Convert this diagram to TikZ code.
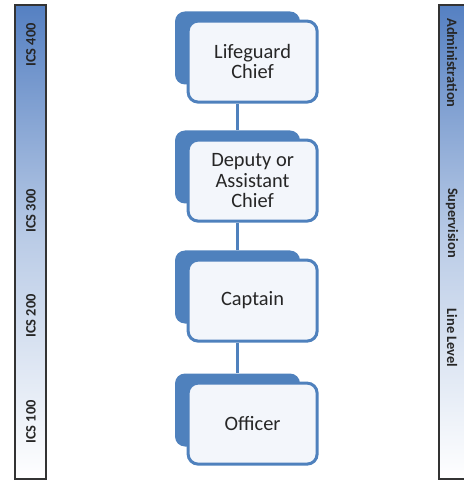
\documentclass[tikz,border=0pt]{standalone}
\usepackage{fontspec}
\setmainfont{Carlito}
\usetikzlibrary{positioning}
\definecolor{orgblue}{HTML}{4F81BD}
\definecolor{barblue}{HTML}{5580C2}
\definecolor{boxfill}{HTML}{F3F6FB}
\tikzset{
  backbox/.style={fill=orgblue, rounded corners=5pt, minimum width=62.5pt, minimum height=36.5pt},
  frontbox/.style={draw=orgblue, line width=1.5pt, fill=boxfill, rounded corners=5pt,
    minimum width=64.5pt, minimum height=40.5pt, align=center, text=black!85,
    font=\fontsize{10.2}{10.2}\selectfont},
  link/.style={draw=orgblue, line width=1.5pt},
  levelbar/.style={draw=black!80, line width=1pt, top color=barblue, bottom color=white,
    middle color=barblue!40, minimum height=237pt},
  barlabel/.style={font=\bfseries\fontsize{7.2}{7.2}\selectfont, text=black!85}
}

\begin{document}
\begin{tikzpicture}[x=0.5pt,y=-0.5pt]
  \useasboundingbox (0,0) rectangle (463,485);

  % level bars
  \node[levelbar, minimum width=15.5pt] (icsbar) at (30.5,242) {};
  \node[levelbar, minimum width=13.5pt] (rolebar) at (452.5,242) {};

  \node[barlabel, rotate=90] (ics400) at (31,45) {ICS 400};
  \node[barlabel, rotate=90] (ics300) at (31,211) {ICS 300};
  \node[barlabel, rotate=90] (ics200) at (31,316) {ICS 200};
  \node[barlabel, rotate=90] (ics100) at (31,422) {ICS 100};

  \node[barlabel, rotate=-90] (admin) at (452,63) {Administration};
  \node[barlabel, rotate=-90] (superv) at (452,223) {Supervision};
  \node[barlabel, rotate=-90] (linelvl) at (452,338) {Line Level};

  % chain of command
  \node[backbox] (chiefbg) at (237.5,48) {};
  \node[frontbox, anchor=north west] (chief) at ([xshift=6pt,yshift=-4.25pt]chiefbg.north west) {Lifeguard\\Chief};

  \node[backbox] (deputybg) at (237.5,167) {};
  \node[frontbox, anchor=north west] (deputy) at ([xshift=6pt,yshift=-4.25pt]deputybg.north west) {Deputy or\\Assistant\\Chief};

  \node[backbox] (captainbg) at (237.5,287) {};
  \node[frontbox, anchor=north west] (captain) at ([xshift=6pt,yshift=-4.25pt]captainbg.north west) {Captain};

  \node[backbox] (officerbg) at (237.5,410) {};
  \node[frontbox, anchor=north west] (officer) at ([xshift=6pt,yshift=-4.25pt]officerbg.north west) {Officer};

  \draw[link] (chief.south -| deputybg.north) -- (deputybg.north);
  \draw[link] (deputy.south -| captainbg.north) -- (captainbg.north);
  \draw[link] (captain.south -| officerbg.north) -- (officerbg.north);
\end{tikzpicture}
\end{document}
